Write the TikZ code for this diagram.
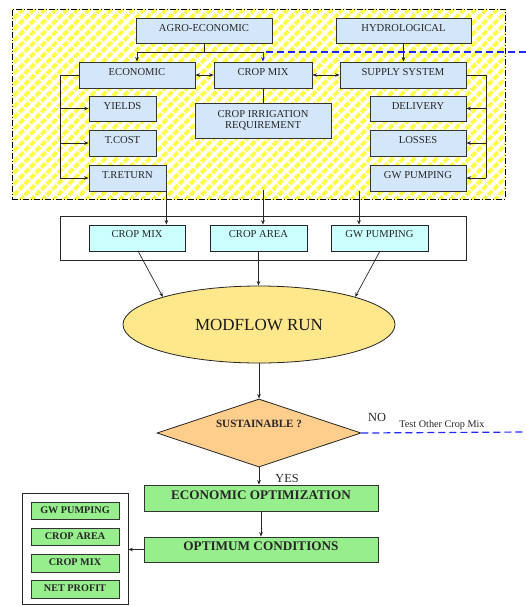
\documentclass[tikz,border=0pt]{standalone}
\usepackage{fontspec}
\setmainfont{Liberation Serif}
\usetikzlibrary{arrows.meta,shapes.geometric,patterns.meta}
\definecolor{boxblue}{RGB}{212,230,250}
\definecolor{boxcyan}{RGB}{204,255,255}
\definecolor{ellyel}{RGB}{255,232,140}
\definecolor{diaorg}{RGB}{255,205,140}
\definecolor{boxgreen}{RGB}{150,238,140}
\definecolor{stripe}{RGB}{255,255,70}
\definecolor{dashblue}{RGB}{30,40,255}
\begin{document}
\begin{tikzpicture}[x=1pt,y=-1pt,
  >={Stealth[length=4.5pt,width=3.6pt]},
  conn/.style={draw=black!85,line width=0.7pt},
  bluedash/.style={draw=dashblue,line width=1.2pt,dash pattern=on 7pt off 4pt},
  bluebox/.style={draw=black!80,line width=0.8pt,fill=boxblue,inner sep=0pt,
    font=\fontsize{10.6}{12}\selectfont,text=black!85,text height=7pt,text depth=6pt},
  cyanbox/.style={draw=black!85,line width=0.8pt,fill=boxcyan,inner sep=0pt,
    minimum width=97pt,minimum height=26pt,
    font=\fontsize{10.6}{12}\selectfont,text=black!85,text height=7pt,text depth=8pt},
  greenbox/.style={draw=black!80,line width=0.8pt,fill=boxgreen,inner sep=0pt,
    font=\bfseries\fontsize{13.2}{15}\selectfont,text=black!85,text height=9pt,text depth=7pt},
  smallgreen/.style={draw=black!80,line width=0.8pt,fill=boxgreen,inner sep=0pt,
    minimum width=88pt,font=\bfseries\fontsize{10.2}{12}\selectfont,text=black!85,
    text height=7pt,text depth=2pt},
  frame/.style={draw=black!85,line width=0.8pt,fill=white,inner sep=0pt}
]
\fill[white] (0,0) rectangle (526,606);
\useasboundingbox (0,0) rectangle (526,606);

% hatched region
\node[inner sep=0pt,minimum width=493pt,minimum height=190pt,
  pattern={Lines[angle=45,distance=7.8pt,line width=3.8pt]},pattern color=stripe,
  draw=black,line width=0.6pt,dash pattern=on 6pt off 2pt on 1pt off 2pt] (region) at (258.5,104) {};

% top boxes
\node[bluebox,minimum width=136pt,minimum height=25pt] (agro) at (204,30.5) {AGRO-ECONOMIC};
\node[bluebox,minimum width=135pt,minimum height=25pt] (hydro) at (403.5,30.5) {HYDROLOGICAL};
\node[bluebox,minimum width=116pt,minimum height=26pt] (econ) at (137,75) {ECONOMIC};
\node[bluebox,minimum width=98pt,minimum height=26pt] (cmix) at (263,75) {CROP MIX};
\node[bluebox,minimum width=126pt,minimum height=26pt] (supply) at (403,75) {SUPPLY SYSTEM};
\node[bluebox,minimum width=67pt,minimum height=25pt] (yields) at (122.5,108.5) {YIELDS};
\node[bluebox,minimum width=67pt,minimum height=26pt] (tcost) at (122.5,143) {T.COST};
\node[bluebox,minimum width=77pt,minimum height=26pt] (tret) at (127.5,178) {T.RETURN};
\node[draw=black!80,line width=0.8pt,fill=boxblue,inner sep=0pt,align=center,
  font=\fontsize{10.6}{11.5}\selectfont,text=black!85,
  minimum width=136pt,minimum height=35pt] (cir) at (263,120.5) {CROP IRRIGATION\\REQUIREMENT};
\node[bluebox,minimum width=96pt,minimum height=25pt] (deliv) at (418,108.5) {DELIVERY};
\node[bluebox,minimum width=96pt,minimum height=26pt] (losses) at (418,143) {LOSSES};
\node[bluebox,minimum width=96pt,minimum height=26pt] (gwp) at (418,178) {GW PUMPING};

% top connectors
\coordinate (j1) at (204,52);
\coordinate (bluejoin) at (263,52);
\coordinate (bluein) at (526,52);
\draw[conn] (agro.south) -- (j1);
\draw[conn,->] (j1) -| (econ.north);
\draw[conn] (j1) -- (bluejoin);
\draw[bluedash] (bluein) -- (bluejoin);
\draw[draw=dashblue,line width=1pt,->] (bluejoin) -- (cmix.north);
\draw[conn,->] (hydro.south) -- (hydro.south|-supply.north);
\draw[conn,<->] (econ.east) -- (cmix.west);
\draw[conn,<->] (cmix.east) -- (supply.west);
\draw[conn] (cmix.south) -- (cir.north);
\coordinate (lb) at (60,178);
\draw[conn] (econ.west) -| (lb);
\draw[conn,->] (lb|-yields.west) -- (yields.west);
\draw[conn,->] (lb|-tcost.west) -- (tcost.west);
\draw[conn,->] (lb) -- (tret.west);
\coordinate (rb) at (486,178);
\draw[conn] (supply.east) -| (rb);
\draw[conn,->] (rb|-deliv.east) -- (deliv.east);
\draw[conn,->] (rb|-losses.east) -- (losses.east);
\draw[conn,->] (rb) -- (gwp.east);

% middle row
\node[frame,minimum width=406pt,minimum height=44pt] (midframe) at (263,238) {};
\node[cyanbox,minimum width=96pt] (cmix2) at (137,238) {CROP MIX};
\node[cyanbox] (carea) at (258.5,238) {CROP AREA};
\node[cyanbox] (gwp2) at (379.5,238) {GW PUMPING};
\coordinate (d2) at (263,190);
\coordinate (d3) at (359,191);
\draw[conn,->] (tret.south east) -- (tret.south east|-cmix2.north);
\draw[conn,->] (d2) -- (d2|-carea.north);
\draw[conn,->] (d3) -- (d3|-gwp2.north);

% modflow
\node[ellipse,draw=black!85,line width=0.8pt,fill=ellyel,inner sep=0pt,
  minimum width=272pt,minimum height=77pt,font=\fontsize{17}{20}\selectfont,text=black!90] (modflow) at (259,324.5) {MODFLOW RUN};
\draw[conn,->] (138,251) -- (modflow.164);
\draw[conn,->] (carea.south) -- (carea.south|-modflow.north);
\draw[conn,->] (380,251) -- (modflow.16);

% diamond
\node[diamond,draw=black!85,line width=0.8pt,fill=diaorg,inner sep=0pt,
  minimum width=204pt,minimum height=68pt] (sust) at (259,433) {};
\node[font=\bfseries\fontsize{11.1}{13}\selectfont,text=black!85] (sustlbl) at (259,424) {SUSTAINABLE ?};
\draw[conn,->] (modflow.south) -- (sust.north);
\coordinate (blueout) at (526,432);
\draw[bluedash] (sust.east) -- (blueout);
\node[font=\fontsize{12.4}{14}\selectfont,text=black!85] (nolbl) at (377,417) {NO};
\node[font=\fontsize{10.2}{12}\selectfont,text=black!85] (testlbl) at (442,425) {Test Other Crop Mix};

% lower
\node[greenbox,minimum width=234pt,minimum height=26pt] (econopt) at (261,498) {ECONOMIC OPTIMIZATION};
\node[greenbox,minimum width=234pt,minimum height=25pt] (optcond) at (261,549.5) {OPTIMUM CONDITIONS};
\draw[conn,->] (sust.south) -- (sust.south|-econopt.north);
\node[font=\fontsize{12.3}{14}\selectfont,text=black!85] (yeslbl) at (287,478) {YES};
\draw[conn,->] (econopt.south) -- (optcond.north);

\node[frame,minimum width=106pt,minimum height=111pt] (results) at (75,548.5) {};
\draw[conn,->] (optcond.west) -- (optcond.west-|results.east);
\node[smallgreen,minimum height=17pt] (rgw) at (75,510.5) {GW PUMPING};
\node[smallgreen,minimum height=17pt] (rca) at (75,536.5) {CROP AREA};
\node[smallgreen,minimum height=18pt] (rcm) at (75,563) {CROP MIX};
\node[smallgreen,minimum height=18pt] (rnp) at (75,589) {NET PROFIT};
\end{tikzpicture}
\end{document}
